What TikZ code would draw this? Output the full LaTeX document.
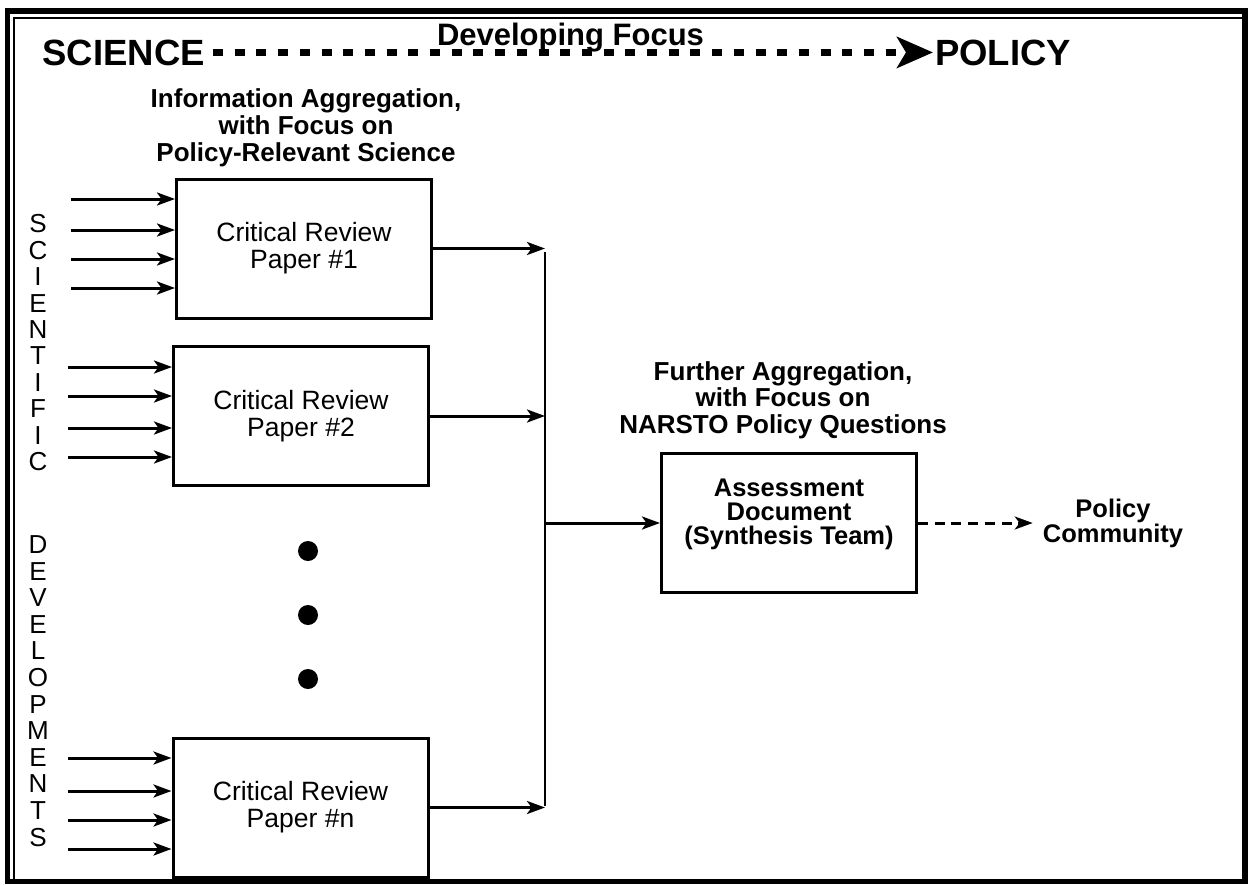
\documentclass[tikz,border=0pt]{standalone}
\usepackage{fontspec}
\setmainfont{Liberation Sans}
\usetikzlibrary{arrows.meta,positioning}

\tikzset{
  paper/.style={draw, line width=3pt, minimum width=255pt, minimum height=139pt,
    align=center, inner sep=0pt, font=\fontsize{26.5}{27}\selectfont},
  head/.style={align=center, inner sep=0pt, font=\fontsize{26}{27}\selectfont\bfseries},
  letter/.style={inner sep=0pt, font=\fontsize{26}{26}\selectfont},
  feed/.style={line width=3pt, -{Stealth[length=18pt,width=13pt,inset=4.5pt]}},
}

\begin{document}
\begin{tikzpicture}[x=1pt,y=-1pt]
\useasboundingbox (0,0) rectangle (1248,884);

\draw[line width=5.5pt] (7.5,11) rectangle (1245,881.5);
\draw[line width=2pt] (14,17.75) rectangle (1243,880);

\node[anchor=base east, inner sep=0pt, font=\fontsize{36.5}{40}\selectfont\bfseries] (science) at (205,65) {SCIENCE};
\node[anchor=base west, inner sep=0pt, font=\fontsize{36.5}{40}\selectfont\bfseries] (policy) at (935,65) {POLICY};
\node[anchor=base, inner sep=0pt, font=\fontsize{31}{34}\selectfont\bfseries] (focus) at (570.5,45) {Developing Focus};
\draw[line width=6.5pt, dash pattern=on 10pt off 11.7pt, shorten <=8pt, shorten >=2pt,
  -{Stealth[length=36pt,width=31pt,inset=9pt]}] (science.east) -- (policy.west);

\node[head] (aggr) at (306,128) {Information Aggregation,\\with Focus on\\Policy-Relevant Science};

\node[paper] (p1) at (304,248.5) {Critical Review\\Paper \#1};
\node[paper] (p2) at (301,416) {Critical Review\\Paper \#2};
\node[paper] (pn) at (300.5,807.5) {Critical Review\\Paper \#n};

\foreach \y [count=\i] in {199,230,259,288} {
  \coordinate (a\i) at (71,\y);
  \draw[feed] (a\i) -- (a\i -| p1.west);
}
\foreach \y [count=\i] in {367,396,428,457} {
  \coordinate (b\i) at (68,\y);
  \draw[feed] (b\i) -- (b\i -| p2.west);
}
\foreach \y [count=\i] in {758,791,820,849} {
  \coordinate (c\i) at (68,\y);
  \draw[feed] (c\i) -- (c\i -| pn.west);
}

\foreach \l [count=\i from 0] in {S,C,I,E,N,T,I,F,I,C}
  \node[letter] (sci\i) at (38,{224+26.4*\i}) {\l};
\foreach \l [count=\i from 0] in {D,E,V,E,L,O,P,M,E,N,T,S}
  \node[letter] (dev\i) at (38,{544.5+26.6*\i}) {\l};

\foreach \y in {551,615,679}
  \fill (308,\y) circle[radius=10pt];

\node[head, font=\fontsize{26}{26.5}\selectfont\bfseries] (further) at (783,400)
  {Further Aggregation,\\with Focus on\\NARSTO Policy Questions};

\node[draw, line width=3pt, minimum width=255pt, minimum height=139pt, inner sep=0pt,
  label={[yshift=9pt, align=center, inner sep=0pt, font=\fontsize{25.5}{24}\selectfont\bfseries]center:Assessment\\Document\\(Synthesis Team)}]
  (assess) at (789,523) {};

\node[align=center, inner xsep=10pt, inner ysep=0pt, font=\fontsize{25.5}{25}\selectfont\bfseries]
  (community) at (1113,523) {Policy\\Community};

\coordinate (bustop) at (545,252);
\coordinate (busbot) at (545,806);
\draw[line width=2.8pt] (bustop) -- (busbot);
\draw[feed] (p1.east) -- (p1.east -| bustop);
\draw[feed] (p2.east) -- (p2.east -| bustop);
\draw[feed] (pn.east) -- (pn.east -| bustop);
\draw[feed] (assess.west -| bustop) -- (assess.west);

\draw[line width=3pt, dash pattern=on 10pt off 6.7pt,
  -{Stealth[length=18pt,width=13pt,inset=5pt]}] (assess) -- (community);
\end{tikzpicture}
\end{document}
